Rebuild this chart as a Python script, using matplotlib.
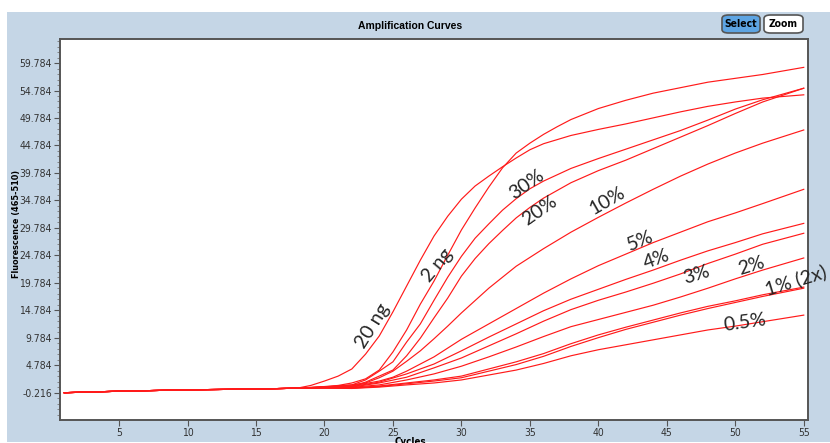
#绘制扩增曲线 (amplification curves)
import matplotlib
matplotlib.use('Agg')
import matplotlib.pyplot as plt
from matplotlib.patches import Rectangle, FancyBboxPatch

# 共同的基线部分
base_cyc=[1,5,10,15,18]
base_val=[-0.22,0.05,0.3,0.45,0.6]

ng20_cyc=[19,20,21,22,23,24,25,26,27,28,29,30,31,32,33,34,35,36,38,40,42,44,46,48,50,52,55]
ng20=[1.1,1.9,2.8,4.1,6.8,10.1,14.5,19.2,23.9,28.3,31.9,35.0,37.4,39.2,40.9,42.5,44.0,45.1,46.6,47.7,48.7,49.8,50.9,51.9,52.7,53.4,54.0]

ng2_cyc=[20,21,22,23,24,25,26,27,28,29,30,31,32,33,34,35,36,37,38,40,42,44,46,48,50,52,55]
ng2=[0.9,1.1,1.55,2.3,3.9,7.2,11.2,15.9,20.1,24.8,29.4,33.4,37.2,40.7,43.4,45.2,46.8,48.2,49.5,51.5,53.0,54.3,55.3,56.3,57.0,57.7,59.0]

p30_cyc=[20,22,23,24,25,26,27,28,29,30,31,32,33,34,35,36,38,40,42,44,46,48,50,52,55]
p30=[0.85,1.2,2.1,3.7,5.4,9.0,12.3,16.6,20.8,24.6,27.9,30.5,33.0,35.1,36.9,38.3,40.6,42.4,44.1,45.8,47.5,49.4,51.4,53.1,55.2]

p20_cyc=[20,22,23,24,25,26,27,28,29,30,31,32,33,34,35,36,38,40,42,44,46,48,50,52,55]
p20=[0.8,1.0,1.7,2.8,3.9,6.5,9.7,13.4,17.0,21.0,24.2,26.9,29.3,31.6,33.5,35.2,38.0,40.2,42.1,44.2,46.3,48.4,50.6,52.7,55.2]

p10_cyc=[20,22,23,24,25,26,27,28,29,30,32,34,36,38,40,42,44,46,48,50,52,55]
p10=[0.8,1.2,1.55,2.5,3.7,5.5,7.4,9.6,11.9,14.3,18.8,22.8,26.0,29.0,31.7,34.3,36.8,39.2,41.4,43.4,45.2,47.6]

p5_cyc=[20,22,24,25,26,27,28,30,32,34,36,38,40,42,44,46,48,50,52,55]
p5=[0.8,1.0,1.9,2.6,3.7,5.0,6.3,9.5,12.3,15.1,17.9,20.5,22.9,25.0,27.1,29.0,30.9,32.5,34.2,36.8]

low_cyc=[20,22,24,26,28,30,32,34,36,38,40,42,44,46,48,50,52,55]
p4=[0.75,0.9,1.7,3.2,5.0,7.4,9.9,12.3,14.7,16.8,18.6,20.4,22.1,23.9,25.6,27.1,28.7,30.6]
p3=[0.7,0.8,1.55,2.6,4.3,6.1,8.3,10.5,12.8,14.9,16.6,18.1,19.7,21.4,23.3,25.0,26.8,28.8]
p2=[0.7,0.75,1.2,2.1,3.2,4.6,6.3,8.1,10.0,11.8,13.1,14.4,15.7,17.2,18.8,20.5,22.1,24.3]
p1a=[0.65,0.65,1.0,1.55,2.1,2.8,4.1,5.4,6.9,8.7,10.3,11.7,13.0,14.3,15.5,16.5,17.6,19.0]
p1b=[0.65,0.6,0.9,1.4,1.9,2.5,3.7,4.9,6.4,8.2,9.8,11.3,12.6,13.9,15.1,16.2,17.3,18.8]
p05=[0.6,0.55,0.8,1.2,1.55,2.1,3.0,3.9,5.1,6.5,7.6,8.5,9.4,10.3,11.2,11.9,12.7,13.9]

label_text=['20 ng','2 ng','30%','20%','10%','5%','4%','3%','2%','1% (2x)','0.5%']
label_x=[23.55,28.23,34.8,35.68,40.65,43.06,44.23,47.15,51.17,54.4,50.73]
label_y=[11.9,23.0,37.6,32.9,34.8,27.4,24.0,21.2,22.8,20.3,12.5]
label_rot=[58,50,35,35,30,22,20,17,17,17,8]

ytick_vals=[-0.216+5*k for k in range(13)]
xtick_vals=[5,10,15,20,25,30,35,40,45,50,55]

panel='#c5d6e6'
fig=plt.figure(figsize=(8.3,4.43),dpi=100)
fig.patch.set_facecolor('white')
fig.patches.append(Rectangle((7/830,1/443),1-7/830,1-13/443,transform=fig.transFigure,
                             facecolor=panel,edgecolor='none',zorder=-5))

ax=fig.add_axes([59.5/830,1-420/443,(808-59.5)/830,(420-39)/443])
ax.set_facecolor('white')

curves=[(ng20_cyc,ng20),(ng2_cyc,ng2),(p30_cyc,p30),(p20_cyc,p20),(p10_cyc,p10),(p5_cyc,p5),
        (low_cyc,p4),(low_cyc,p3),(low_cyc,p2),(low_cyc,p1a),(low_cyc,p1b),(low_cyc,p05)]
for cyc,val in curves:
    ax.plot(base_cyc+cyc,base_val+val,color='#ff1a1a',linewidth=0.85,solid_joinstyle='round')

for t,x,y,r in zip(label_text,label_x,label_y,label_rot):
    ax.text(x,y,t,rotation=r,rotation_mode='anchor',ha='center',va='center',
            fontsize=14,family=['Lato','Open Sans','DejaVu Sans'],color='#262626',clip_on=False)

ax.set_xlim(0.65,55.31)
ax.set_ylim(-5.19,64.16)
ax.set_xticks(xtick_vals)
ax.set_yticks(ytick_vals)
ax.set_yticklabels(['%.3f'%v for v in ytick_vals])
ax.set_yticks([-0.216+k for k in range(-5,65) if -5.19< -0.216+k <64.16],minor=True)
narrow=['Liberation Sans Narrow','DejaVu Sans']
for lab in ax.get_xticklabels()+ax.get_yticklabels():
    lab.set_family(narrow)
    lab.set_stretch('condensed')
    lab.set_fontsize(7.5)
    lab.set_color('#333333')
ax.tick_params(axis='both',which='major',length=4,width=0.8,color='#555555',pad=1.5)
ax.tick_params(axis='y',which='minor',length=2,width=0.6,color='#777777')
for s in ax.spines.values():
    s.set_color('#555555')
    s.set_linewidth(1.4)

fig.text(410/830,1-26/443,'Amplification Curves',ha='center',va='center',fontsize=7.5,
         fontweight='bold',family=['Liberation Sans','DejaVu Sans'])
fig.text(16/830,1-224/443,'Fluorescence (465-510)',rotation=90,ha='center',va='center',
         fontsize=6.5,fontweight='bold',family=narrow,stretch='condensed')
fig.text(410/830,1-442/443,'Cycles',ha='center',va='center',fontsize=7,fontweight='bold',
         family=narrow,stretch='condensed')

# 右上角按钮
for x0,x1,fc,txt in [(722,760,'#5da4e2','Select'),(764,803,'white','Zoom')]:
    fig.patches.append(FancyBboxPatch((x0/830,1-33/443),(x1-x0)/830,18/443,
                       boxstyle='round,pad=0,rounding_size=0.008',transform=fig.transFigure,
                       facecolor=fc,edgecolor='#555555',linewidth=1.2,zorder=2))
    fig.text((x0+x1)/2/830,1-24/443,txt,ha='center',va='center',fontsize=7.5,fontweight='bold',
             family=narrow,stretch='condensed',zorder=3)

fig.savefig('out.png',dpi=100)
